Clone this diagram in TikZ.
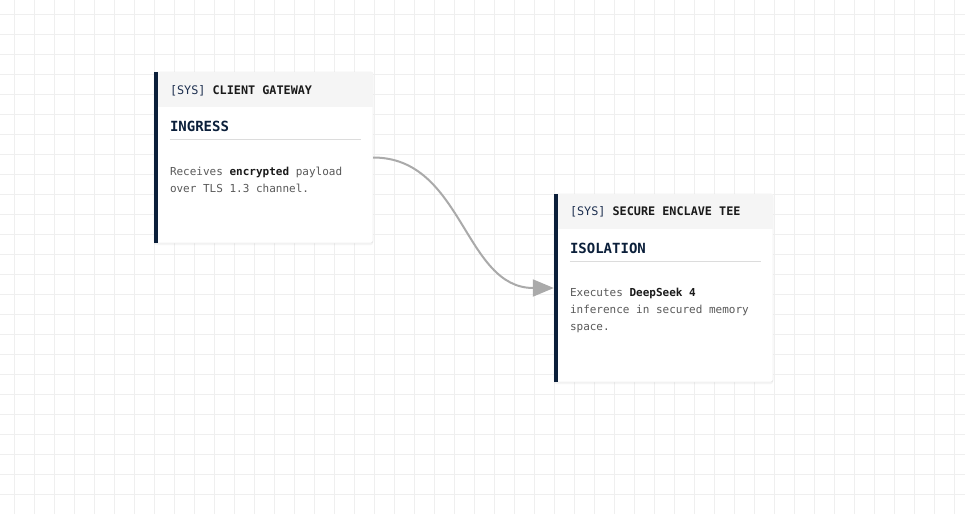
\documentclass[tikz,border=0pt]{standalone}
\usepackage{fontspec}
\setmonofont{DejaVu Sans Mono}
\usetikzlibrary{arrows.meta, shadows}
\definecolor{navy}{HTML}{0B1F3A}
\definecolor{sysink}{HTML}{1E3050}
\definecolor{ink}{HTML}{1A1A1A}
\definecolor{bodyink}{HTML}{595959}
\definecolor{headfill}{HTML}{F5F5F5}
\definecolor{cardline}{HTML}{DCDCDC}
\definecolor{gridcol}{HTML}{EFEFEF}
\definecolor{flowgray}{HTML}{AAAAAA}
\tikzstyle{card} = [rectangle, draw=cardline, fill=white, rounded corners=2pt, inner sep=0pt,
  minimum width=219pt, drop shadow={opacity=0.08, shadow xshift=0pt, shadow yshift=-2pt}]
\tikzstyle{headtext} = [anchor=base west, inner sep=0pt, text=ink, font=\ttfamily\fontsize{11.8}{14}\selectfont]
\tikzstyle{titletext} = [anchor=base west, inner sep=0pt, text=navy, font=\ttfamily\bfseries\fontsize{14}{16}\selectfont]
\tikzstyle{bodytext} = [anchor=base west, inner sep=0pt, text=bodyink, font=\ttfamily\fontsize{11}{17}\selectfont]
\tikzstyle{rule} = [draw=cardline, line width=1pt]
\tikzstyle{arrow} = [line width=2pt, draw=flowgray, -{Triangle[length=21pt,width=17pt,fill=flowgray]}]

\begin{document}
\begin{tikzpicture}[x=1pt, y=-1pt]
                \useasboundingbox (0,0) rectangle (965,514);
                \fill[white] (0,0) rectangle (965,514);
                \foreach \gx in {14,34,...,954} \draw[gridcol, line width=1pt] (\gx,0) -- (\gx,514);
                \foreach \gy in {14,34,...,494} \draw[gridcol, line width=1pt] (0,\gy) -- (965,\gy);

                % client gateway
                \node (gw) [card, minimum height=171pt] at (263.5,157.5) {};
                \fill[headfill] ([xshift=4pt,yshift=-0.5pt]gw.north west) rectangle ([xshift=-0.5pt,yshift=-35pt]gw.north east);
                \fill[navy] (gw.north west) rectangle ([xshift=4pt]gw.south west);
                \node (gw head) [headtext] at ([xshift=16pt,yshift=-22.5pt]gw.north west) {{\color{sysink}[SYS]} \textbf{CLIENT GATEWAY}};
                \node (gw title) [titletext] at ([xshift=16pt,yshift=-60pt]gw.north west) {INGRESS};
                \draw[rule] ([xshift=16pt,yshift=-68pt]gw.north west) -- ([xshift=-12pt,yshift=-68pt]gw.north east);
                \node (gw line1) [bodytext] at ([xshift=16pt,yshift=-103.5pt]gw.north west) {Receives \textbf{\color{ink}encrypted} payload};
                \node (gw line2) [bodytext] at ([xshift=16pt,yshift=-120.5pt]gw.north west) {over TLS 1.3 channel.};

                % secure enclave
                \node (enc) [card, minimum height=188pt] at (663.5,288) {};
                \fill[headfill] ([xshift=4pt,yshift=-0.5pt]enc.north west) rectangle ([xshift=-0.5pt,yshift=-35pt]enc.north east);
                \fill[navy] (enc.north west) rectangle ([xshift=4pt]enc.south west);
                \node (enc head) [headtext] at ([xshift=16pt,yshift=-22pt]enc.north west) {{\color{sysink}[SYS]} \textbf{SECURE ENCLAVE TEE}};
                \node (enc title) [titletext] at ([xshift=16pt,yshift=-60pt]enc.north west) {ISOLATION};
                \draw[rule] ([xshift=16pt,yshift=-68pt]enc.north west) -- ([xshift=-12pt,yshift=-68pt]enc.north east);
                \node (enc line1) [bodytext] at ([xshift=16pt,yshift=-103pt]enc.north west) {Executes \textbf{\color{ink}DeepSeek 4}};
                \node (enc line2) [bodytext] at ([xshift=16pt,yshift=-120pt]enc.north west) {inference in secured memory};
                \node (enc line3) [bodytext] at ([xshift=16pt,yshift=-137pt]enc.north west) {space.};

                \draw [arrow] (gw.east) .. controls +(90,0) and +(-90,0) .. (enc.west);
            \end{tikzpicture}
\end{document}
